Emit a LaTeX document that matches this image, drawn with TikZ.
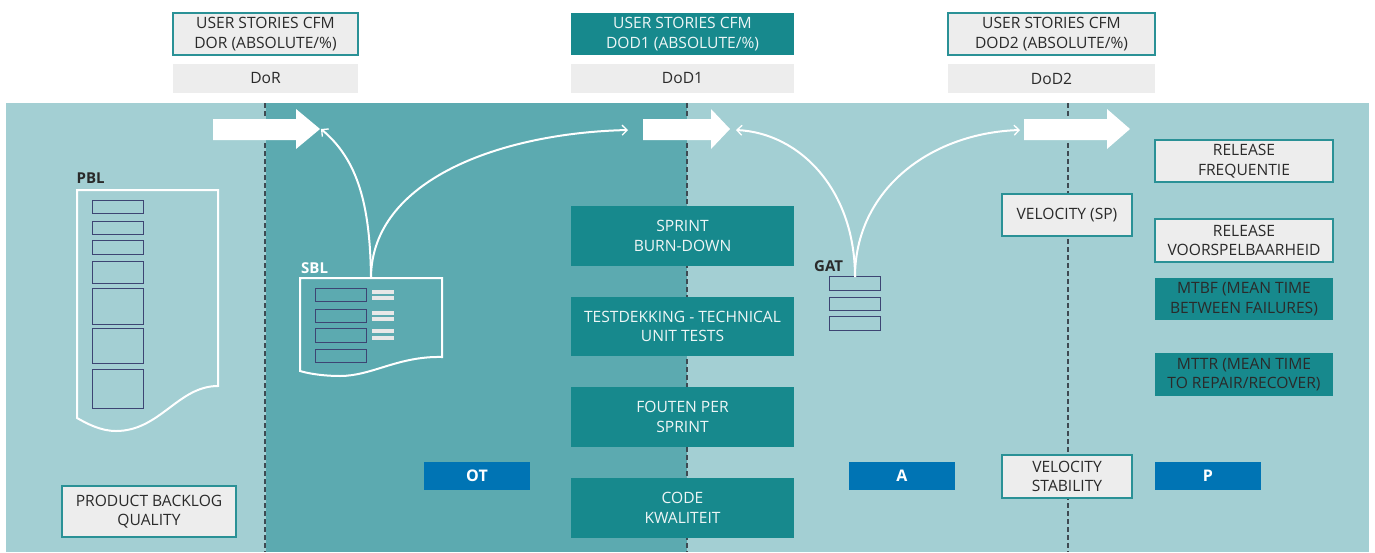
\documentclass[tikz,border=0pt]{standalone}
\usepackage{fontspec}
\setmainfont{Open Sans}
\usetikzlibrary{arrows.meta}

\definecolor{bandlight}{HTML}{A3CFD3}
\definecolor{banddark}{HTML}{5CAAB0}
\definecolor{tealbox}{HTML}{17898D}
\definecolor{boxgray}{HTML}{EDEDED}
\definecolor{tealedge}{HTML}{2A9196}
\definecolor{bluebox}{HTML}{0074B4}
\definecolor{navy}{HTML}{3D4573}
\definecolor{ink}{HTML}{2A2A2A}
\definecolor{paleink}{HTML}{EEF6F6}
\definecolor{dashgray}{HTML}{3E4A52}
\definecolor{bargray}{HTML}{E8E8E8}

% big white block arrow: #1 shaft start x, #2 head start x, #3 tip x, #4 name of tip
\newcommand\fatarrow[4]{%
  \fill[white] (#1,119) -- (#2,119) -- (#2,109) -- (#3,129) -- (#2,149) -- (#2,140) -- (#1,140) -- cycle;
  \coordinate (#4) at (#3,129);}

\begin{document}
\begin{tikzpicture}[x=1pt,y=-1pt,
  every node/.style={font=\fontsize{15.6}{19.5}\selectfont, align=center, inner sep=0pt},
  light/.style={fill=boxgray, draw=tealedge, line width=1.2pt, text=ink},
  tag/.style={fill=boxgray, text=ink},
  metric/.style={fill=tealbox, text=paleink},
  darkmetric/.style={fill=tealbox, text=ink},
  phase/.style={fill=bluebox, text=white, font=\fontsize{16}{19}\selectfont\bfseries},
  itembox/.style={draw=navy, line width=1pt},
  doc/.style={draw=white, line width=2pt},
  boundary/.style={draw=dashgray, line width=1.1pt, dash pattern=on 5pt off 3pt},
  flow/.style={draw=white, line width=2pt, -{Straight Barb[length=5pt,width=10pt,line width=1.3pt]}},
  lbl/.style={font=\fontsize{15}{17}\selectfont\bfseries, anchor=base west}
]
\useasboundingbox (0,0) rectangle (1375,552);

% background bands
\fill[bandlight] (6,103) rectangle (1369,552);
\fill[banddark] (266,103) rectangle (687,552);

% phase boundaries
\draw[boundary] (265,103) -- (265,552);
\draw[boundary] (687,103) -- (687,552);
\draw[boundary] (1068,103) -- (1068,552);

% header boxes
\node[light, minimum width=185, minimum height=42] (dor) at (265.5,34) {USER STORIES CFM\\DOR (ABSOLUTE/\%)};
\node[tag, minimum width=185, minimum height=29] (dortag) at (265.5,78.5) {DoR};
\node[metric, minimum width=223, minimum height=42] (dod1) at (682.5,34) {USER STORIES CFM\\DOD1 (ABSOLUTE/\%)};
\node[tag, minimum width=223, minimum height=29] (dod1tag) at (682.5,78.5) {DoD1};
\node[light, minimum width=207, minimum height=42] (dod2) at (1051.5,34) {USER STORIES CFM\\DOD2 (ABSOLUTE/\%)};
\node[tag, minimum width=207, minimum height=29] (dod2tag) at (1051.5,78.5) {DoD2};

% flow arrows
\fatarrow{213}{296}{320}{tipA}
\fatarrow{643}{711}{730}{tipB}
\fatarrow{1024}{1107}{1130}{tipC}

% product backlog document
\node[lbl, text=ink] (pbl) at (76.5,183) {PBL};
\draw[doc] (77,190) -- (218,190) -- (218,386)
  .. controls (178,386) and (160,431) .. (116,431)
  .. controls (100,431) and (86,423) .. (77,418) -- cycle;
\foreach \ya/\yb in {200.5/213.5, 221/234.5, 240.5/254.5, 261/283.5, 288.5/324, 328.5/363.5, 369/408.5}
  \draw[itembox] (92,\ya) rectangle (143,\yb);

% sprint backlog document
\node[lbl, text=white] (sbl) at (301,273) {SBL};
\draw[doc] (300,278) -- (442,278) -- (442,357)
  .. controls (398,356) and (372,376) .. (340,376)
  .. controls (325,376) and (310,374) .. (300,371) -- cycle;
\foreach \ya/\yb in {288.5/301.5, 309/322, 328.5/342, 349/362}
  \draw[itembox] (315.5,\ya) rectangle (366.5,\yb);
\foreach \yy in {290, 296, 311, 317, 329, 336}
  \fill[bargray] (372,\yy) rectangle (394,\yy+4);
\coordinate (sbltop) at (371,277);

% accepted (GAT) items
\node[lbl, text=ink] (gat) at (814,271) {GAT};
\foreach \ya/\yb in {276.5/290.5, 297/310.5, 316.5/330}
  \draw[itembox] (829,\ya) rectangle (880,\yb);
\coordinate (gattop) at (855,277);

% curved feedback arrows
\coordinate (endA) at (321,129);
\coordinate (endB) at (628,130);
\coordinate (endC) at (736,130);
\coordinate (endD) at (1020,130);
\draw[flow] (sbltop) .. controls (370,205) and (358,160) .. (endA);
\draw[flow] (sbltop) .. controls (372,180) and (500,133) .. (endB);
\draw[flow] (gattop) .. controls (855,190) and (800,133) .. (endC);
\draw[flow] (gattop) .. controls (855,190) and (930,133) .. (endD);

% sprint metrics
\node[metric, minimum width=223, minimum height=60] (burn) at (682.5,236) {SPRINT\\BURN-DOWN};
\node[metric, minimum width=223, minimum height=59] (tests) at (682.5,326.5) {TESTDEKKING - TECHNICAL\\UNIT TESTS};
\node[metric, minimum width=223, minimum height=60] (fouten) at (682.5,417) {FOUTEN PER\\SPRINT};
\node[metric, minimum width=223, minimum height=60] (code) at (682.5,508) {CODE\\KWALITEIT};

% release metrics
\node[light, minimum width=178, minimum height=42] (relfreq) at (1244,161) {RELEASE\\FREQUENTIE};
\node[light, minimum width=130, minimum height=42] (velsp) at (1067,215) {VELOCITY (SP)};
\node[light, minimum width=178, minimum height=43] (relvoor) at (1244,240.5) {RELEASE\\VOORSPELBAARHEID};
\node[darkmetric, minimum width=178, minimum height=42] (mtbf) at (1244,299) {MTBF (MEAN TIME\\BETWEEN FAILURES)};
\node[darkmetric, minimum width=178, minimum height=43] (mttr) at (1244,374.5) {MTTR (MEAN TIME\\TO REPAIR/RECOVER)};

% bottom row
\node[light, minimum width=174, minimum height=51] (pbq) at (149,511.5) {PRODUCT BACKLOG\\QUALITY};
\node[phase, minimum width=106, minimum height=28] (ot) at (477,476) {OT};
\node[phase, minimum width=106, minimum height=28] (a) at (902,476) {A};
\node[light, line width=2.4pt, minimum width=130, minimum height=43] (velstab) at (1067,476.5) {VELOCITY\\STABILITY};
\node[phase, minimum width=106, minimum height=28] (p) at (1208,476) {P};
\end{tikzpicture}
\end{document}
